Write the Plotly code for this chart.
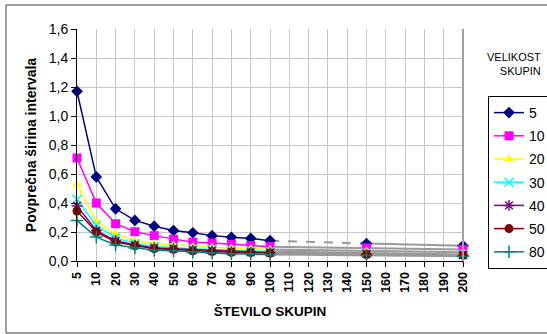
import plotly.graph_objects as go

# Category axis: number of groups
categories = [5, 10, 20, 30, 40, 50, 60, 70, 80, 90, 100,
              110, 120, 130, 140, 150, 160, 170, 180, 190, 200]
# Group counts that were actually measured
measured = [5, 10, 20, 30, 40, 50, 60, 70, 80, 90, 100, 150, 200]

# Average interval width per group size (legend: VELIKOST SKUPIN)
size_labels = ["5", "10", "20", "30", "40", "50", "80"]
w5 = [1.17, 0.58, 0.36, 0.28, 0.24, 0.21, 0.195, 0.175, 0.163, 0.156, 0.14, 0.12, 0.105]
w10 = [0.71, 0.40, 0.257, 0.202, 0.175, 0.15, 0.13, 0.124, 0.115, 0.106, 0.099, 0.09, 0.08]
w20 = [0.53, 0.27, 0.185, 0.14, 0.12, 0.11, 0.10, 0.095, 0.09, 0.085, 0.08, 0.07, 0.06]
w30 = [0.425, 0.245, 0.16, 0.12, 0.10, 0.09, 0.085, 0.08, 0.075, 0.07, 0.065, 0.055, 0.045]
w40 = [0.38, 0.21, 0.14, 0.11, 0.09, 0.085, 0.075, 0.07, 0.065, 0.06, 0.058, 0.048, 0.04]
w50 = [0.345, 0.20, 0.13, 0.105, 0.085, 0.08, 0.07, 0.065, 0.06, 0.058, 0.055, 0.045, 0.04]
w80 = [0.28, 0.165, 0.11, 0.09, 0.075, 0.07, 0.06, 0.055, 0.05, 0.048, 0.045, 0.038, 0.032]

series = [w5, w10, w20, w30, w40, w50, w80]
colors = ["#000080", "#FF00FF", "#FFFF00", "#00FFFF", "#800080", "#800000", "#008080"]
symbols = ["diamond", "square", "triangle-up", "x-thin", "asterisk", "circle", "cross-thin"]
msizes = [9, 9, 9, 9, 9, 9, 9]

y_ticks = [0, 0.2, 0.4, 0.6, 0.8, 1.0, 1.2, 1.4, 1.6]

FONT = "Liberation Sans, Arial, sans-serif"
# the chart frame runs a little past the right edge of the 547 px view
W, H = 566, 334
ML, MR, MT, MB = 77, 103, 29, 73

xi = [categories.index(c) for c in measured]
n_dense = measured.index(100) + 1  # continuous run 5..100

fig = go.Figure()

# grey connectors across the unmeasured categories (100 -> 150 -> 200)
for k, vals in enumerate(series):
    gx = xi[n_dense - 1:]
    gy = vals[n_dense - 1:]
    if k == 0:
        fig.add_trace(go.Scatter(x=gx[:2], y=gy[:2], mode="lines",
                                 line=dict(color="#999999", width=2, dash="dash"),
                                 showlegend=False, hoverinfo="skip", cliponaxis=False))
        fig.add_trace(go.Scatter(x=gx[1:], y=gy[1:], mode="lines",
                                 line=dict(color="#999999", width=2),
                                 showlegend=False, hoverinfo="skip", cliponaxis=False))
    else:
        fig.add_trace(go.Scatter(x=gx, y=gy, mode="lines",
                                 line=dict(color="#999999", width=2),
                                 showlegend=False, hoverinfo="skip", cliponaxis=False))

for k, vals in enumerate(series):
    line_sym = symbols[k] in ("x-thin", "asterisk", "cross-thin")
    marker = dict(symbol=symbols[k], size=msizes[k], color=colors[k],
                  line=dict(color=colors[k], width=1.5 if line_sym else 0))
    fig.add_trace(go.Scatter(
        x=xi[:n_dense], y=vals[:n_dense], mode="lines+markers",
        name=size_labels[k], legendgroup=size_labels[k],
        line=dict(color=colors[k], width=1.5), marker=marker, cliponaxis=False))
    fig.add_trace(go.Scatter(
        x=xi[n_dense:], y=vals[n_dense:], mode="markers",
        legendgroup=size_labels[k], showlegend=False,
        marker=marker, cliponaxis=False))

pw = W - ML - MR
ph = H - MT - MB


def px_x(p):
    return (p - ML) / pw


def px_y(p):
    return (H - MB - p) / ph


fig.update_layout(
    width=W, height=H,
    margin=dict(l=ML, r=MR, t=MT, b=MB, pad=0, autoexpand=False),
    paper_bgcolor="white", plot_bgcolor="white",
    separators=",.",
    font=dict(family=FONT, color="black"),
    xaxis=dict(
        range=[0, len(categories) - 1],
        tickmode="array",
        tickvals=list(range(len(categories))),
        ticktext=[str(c) for c in categories],
        tickangle=-90,
        tickfont=dict(size=12.5, family=FONT, weight="bold"),
        ticks="outside", ticklen=5, tickcolor="black",
        showline=True, linecolor="black", linewidth=1,
        showgrid=True, gridcolor="#c8c8c8", gridwidth=1,
        zeroline=False,
        title=dict(text="<b>ŠTEVILO SKUPIN</b>", font=dict(size=13.5, family=FONT), standoff=14),
    ),
    yaxis=dict(
        range=[0, 1.6],
        tickmode="array", tickvals=y_ticks,
        tickformat=".1f",
        tickfont=dict(size=14, family=FONT),
        ticks="outside", ticklen=5, tickcolor="black",
        showline=True, linecolor="black", linewidth=1,
        showgrid=True, gridcolor="#c8c8c8", gridwidth=1,
        zeroline=False,
        title=dict(text="<b>Povprečna širina intervala</b>", font=dict(size=14, family=FONT), standoff=8),
    ),
    legend=dict(
        x=px_x(488), y=px_y(96), xanchor="left", yanchor="top",
        bgcolor="white", bordercolor="black", borderwidth=1,
        font=dict(size=14, family=FONT),
        tracegroupgap=2, traceorder="grouped",
        itemwidth=30,
    ),
    showlegend=True,
)

# legend heading
fig.add_annotation(
    x=px_x(543), y=px_y(49), xref="paper", yref="paper",
    xanchor="right", yanchor="top", align="right", showarrow=False,
    text="VELIKOST<br>SKUPIN", font=dict(size=11, family=FONT),
)

# right border of plot area and outer chart frame
fig.add_shape(type="line", xref="paper", yref="paper", x0=1, x1=1, y0=0, y1=1,
              line=dict(color="#a0a0a0", width=2))
fig.add_shape(type="rect", xref="paper", yref="paper",
              x0=px_x(6), x1=px_x(W + 20), y0=px_y(333), y1=px_y(5),
              line=dict(color="#404040", width=1), layer="below")

fig.write_html(
    "out.html",
    post_script="document.documentElement.style.overflow='hidden';"
                "document.body.style.overflow='hidden';",
)
